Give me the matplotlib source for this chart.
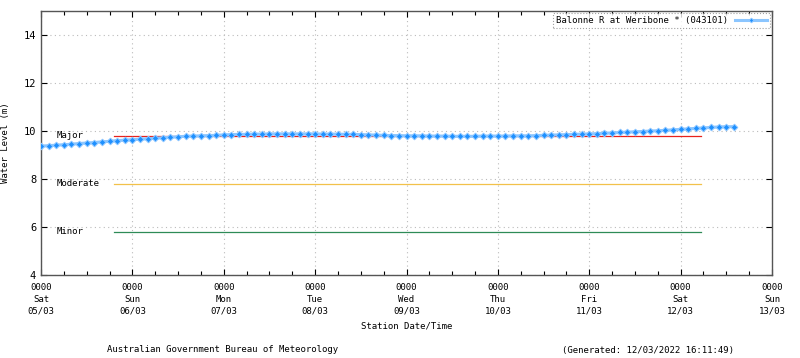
import numpy as np
import matplotlib.pyplot as plt
from matplotlib.ticker import MultipleLocator

plt.rcParams['font.family'] = ['DejaVu Sans Mono']

# hours since 0000 Sat 05/03, every 2 hours
hours = list(range(0, 184, 2))
levels = [
    9.37, 9.39, 9.41, 9.43, 9.45, 9.48, 9.50, 9.52, 9.55, 9.57, 9.60, 9.62,
    9.64, 9.66, 9.68, 9.70, 9.72, 9.74, 9.76, 9.78, 9.79, 9.80, 9.81, 9.82,
    9.84, 9.85, 9.86, 9.86, 9.87, 9.87, 9.88, 9.88, 9.88, 9.88, 9.88, 9.88,
    9.88, 9.87, 9.87, 9.87, 9.86, 9.86, 9.85, 9.84, 9.83, 9.82, 9.81, 9.81,
    9.80, 9.80, 9.80, 9.79, 9.79, 9.79, 9.78, 9.78, 9.78, 9.78, 9.79, 9.79,
    9.79, 9.79, 9.80, 9.80, 9.80, 9.81, 9.82, 9.83, 9.84, 9.85, 9.86, 9.87,
    9.88, 9.89, 9.91, 9.92, 9.94, 9.95, 9.97, 9.98, 10.00, 10.01, 10.03, 10.05,
    10.07, 10.09, 10.11, 10.13, 10.15, 10.17, 10.18, 10.18,
]

tick_labels = ["0000\nSat\n05/03", "0000\nSun\n06/03", "0000\nMon\n07/03",
               "0000\nTue\n08/03", "0000\nWed\n09/03", "0000\nThu\n10/03",
               "0000\nFri\n11/03", "0000\nSat\n12/03", "0000\nSun\n13/03"]

flood_names = ["Major", "Moderate", "Minor"]
flood_levels = [9.8, 7.8, 5.8]
flood_colors = ["#e8221c", "#f2c14a", "#2e8b57"]
flood_start, flood_end = 0.8, 7.22  # days

days = np.array(hours) / 24.0

fig = plt.figure(figsize=(8, 3.58), dpi=100)
ax = fig.add_axes([0.05125, 0.2318, 0.91375, 0.7374])

for name, lvl, col in zip(flood_names, flood_levels, flood_colors):
    ax.plot([flood_start, flood_end], [lvl, lvl], color=col, lw=0.9, zorder=2)
    ax.text(0.17, lvl, name, fontsize=6.5, va='center', ha='left', color='black')

ax.plot(days, levels, color='#8cc6ff', lw=2.2, marker='D', markersize=3.4,
        markerfacecolor='#1e90ff', markeredgecolor='#8cc6ff', markeredgewidth=0.7,
        label='Balonne R at Weribone * (043101)', zorder=3)

ax.set_xlim(0, 8)
ax.set_ylim(4, 15)
ax.set_xticks(range(9))
ax.set_xticklabels(tick_labels, fontsize=6.5, linespacing=1.4)
ax.xaxis.set_minor_locator(MultipleLocator(0.25))
ax.set_yticks([4, 6, 8, 10, 12, 14])
ax.tick_params(axis='y', labelsize=7.5)
ax.tick_params(which='both', direction='in', top=True, right=True, width=0.8)
ax.tick_params(which='major', length=4)
ax.tick_params(which='minor', length=3)
ax.tick_params(axis='x', pad=6)
ax.grid(True, which='major', color='#bbbbbb', linestyle=(0, (1, 3)), lw=0.8)
for s in ax.spines.values():
    s.set_color('#555555')
    s.set_linewidth(1.0)

ax.set_xlabel('Station Date/Time', fontsize=6.5, labelpad=4)
ax.set_ylabel('Water Level (m)', fontsize=6.5, labelpad=10)

leg = ax.legend(loc='upper right', fontsize=6.5, frameon=True, fancybox=False,
                markerfirst=False, handlelength=3.5, borderpad=0.35,
                borderaxespad=0.2, markerscale=0.7)
leg.get_frame().set_edgecolor('#888888')
leg.get_frame().set_linestyle(':')
leg.get_frame().set_linewidth(0.8)

fig.text(223 / 800, 1 - 350 / 358, 'Australian Government Bureau of Meteorology',
         fontsize=6.5, ha='center', va='center')
fig.text(648 / 800, 1 - 350 / 358, '(Generated: 12/03/2022 16:11:49)',
         fontsize=6.5, ha='center', va='center')

fig.savefig('out.png', dpi=100)
